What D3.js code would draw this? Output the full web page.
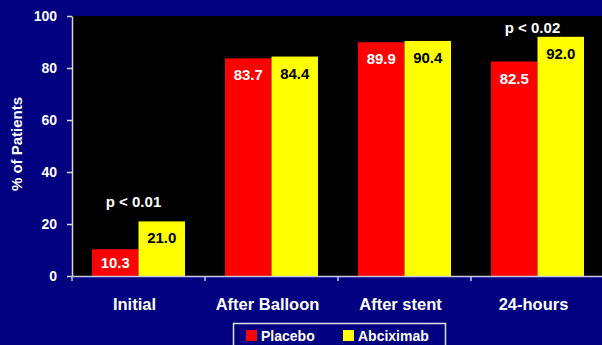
<!DOCTYPE html>
<html>
<head>
<meta charset="utf-8">
<script src="https://cdn.jsdelivr.net/npm/d3@7/dist/d3.min.js"></script>
<style>
  html, body { margin: 0; padding: 0; background: #000080; }
  svg { display: block; }
  text { font-family: "Liberation Sans", Arial, sans-serif; font-weight: bold; }
</style>
</head>
<body>
<svg id="chart" width="602" height="345"></svg>
<script>
// Stages of the procedure and the two treatment arms
const categories = ["Initial", "After Balloon", "After stent", "24-hours"];
const seriesNames = ["Placebo", "Abciximab"];
const placebo = [10.3, 83.7, 89.9, 82.5];
const abciximab = [21.0, 84.4, 90.4, 92.0];
const yTicks = [0, 20, 40, 60, 80, 100];
// Significance notes, placed at a level on the value axis
const pNotes = [
  { category: "Initial", text: "p < 0.01", level: 26.5 },
  { category: "24-hours", text: "p < 0.02", level: 93.5 }
];

const colors = { Placebo: "#ff0000", Abciximab: "#ffff00" };
const labelColors = { Placebo: "#ffffff", Abciximab: "#000000" };

const svg = d3.select("#chart");
const W = 602, H = 345;
const plot = { left: 72, top: 16, right: 604, bottom: 276 };

const x0 = d3.scaleBand().domain(categories).range([plot.left, plot.right]).padding(0);
const x1 = d3.scaleBand().domain(seriesNames).range([20, 113]).padding(0);
const y = d3.scaleLinear().domain([0, 100]).range([plot.bottom, plot.top]);

// Plot background
svg.append("rect")
  .attr("x", plot.left).attr("y", plot.top)
  .attr("width", W - plot.left).attr("height", plot.bottom - plot.top)
  .attr("fill", "#000000");

const rows = categories.map((c, i) => ({
  category: c,
  values: [
    { series: "Placebo", value: placebo[i] },
    { series: "Abciximab", value: abciximab[i] }
  ]
}));

const groups = svg.append("g").selectAll("g")
  .data(rows).join("g")
  .attr("transform", d => `translate(${x0(d.category)},0)`);

groups.selectAll("rect")
  .data(d => d.values).join("rect")
  .attr("x", d => x1(d.series))
  .attr("y", d => y(d.value))
  .attr("width", x1.bandwidth())
  .attr("height", d => y(0) - y(d.value))
  .attr("fill", d => colors[d.series]);

groups.selectAll("text.val")
  .data(d => d.values).join("text")
  .attr("class", "val")
  .attr("x", d => x1(d.series) + x1.bandwidth() / 2)
  .attr("y", d => {
    const top = y(d.value), h = y(0) - top;
    return h < 35 ? top + h / 2 + 5.5 : top + 22;
  })
  .attr("text-anchor", "middle")
  .attr("font-size", 15)
  .attr("fill", d => labelColors[d.series])
  .text(d => d.value.toFixed(1));

// Significance notes
svg.append("g").selectAll("text")
  .data(pNotes).join("text")
  .attr("x", d => x0(d.category) + x0.bandwidth() / 2 - 5)
  .attr("y", d => y(d.level))
  .attr("text-anchor", "middle")
  .attr("font-size", 15)
  .attr("fill", "#ffffff")
  .text(d => d.text);

// Y axis
const yAxis = svg.append("g")
  .attr("transform", `translate(${plot.left},0)`)
  .call(d3.axisLeft(y).tickValues(yTicks).tickSize(5).tickPadding(10).tickSizeOuter(0));
yAxis.select(".domain").attr("stroke", "#d8d8d8").attr("stroke-width", 1.5);
yAxis.selectAll(".tick line").attr("stroke", "#d8d8d8").attr("stroke-width", 1.5);
yAxis.selectAll(".tick text")
  .attr("fill", "#ffffff").attr("font-size", 14)
  .attr("font-family", "'Liberation Sans', Arial, sans-serif").attr("font-weight", "bold");

// X axis
const xAxis = svg.append("g")
  .attr("transform", `translate(0,${plot.bottom})`)
  .call(d3.axisBottom(x0).tickSize(0).tickPadding(22).tickSizeOuter(0));
xAxis.select(".domain").attr("stroke", "#c8c8e0").attr("stroke-width", 1.5);
xAxis.selectAll(".tick text")
  .attr("x", -4)
  .attr("fill", "#ffffff").attr("font-size", 16.5)
  .attr("font-family", "'Liberation Sans', Arial, sans-serif").attr("font-weight", "bold");
// Tick marks at category boundaries
svg.append("g").selectAll("line")
  .data(categories).join("line")
  .attr("x1", d => x0(d)).attr("x2", d => x0(d))
  .attr("y1", plot.bottom).attr("y2", plot.bottom + 5)
  .attr("stroke", "#c8c8e0").attr("stroke-width", 1.5);

// Y axis title
svg.append("text")
  .attr("transform", `translate(21.5,${(plot.top + plot.bottom) / 2 - 2}) rotate(-90)`)
  .attr("text-anchor", "middle")
  .attr("font-size", 15)
  .attr("fill", "#ffffff")
  .text("% of Patients");

// Legend
const legend = svg.append("g");
legend.append("rect")
  .attr("x", 233.5).attr("y", 323.5).attr("width", 212).attr("height", 30)
  .attr("fill", "#000080").attr("stroke", "#e0e0e0").attr("stroke-width", 1.5);
const legendX = [246, 343];
const items = legend.selectAll("g").data(seriesNames).join("g")
  .attr("transform", (d, i) => `translate(${legendX[i]},330)`);
items.append("rect")
  .attr("width", 11).attr("height", 11)
  .attr("fill", d => colors[d]);
items.append("text")
  .attr("x", 15).attr("y", 11)
  .attr("font-size", 14).attr("fill", "#ffffff")
  .text(d => d);
</script>
</body>
</html>
